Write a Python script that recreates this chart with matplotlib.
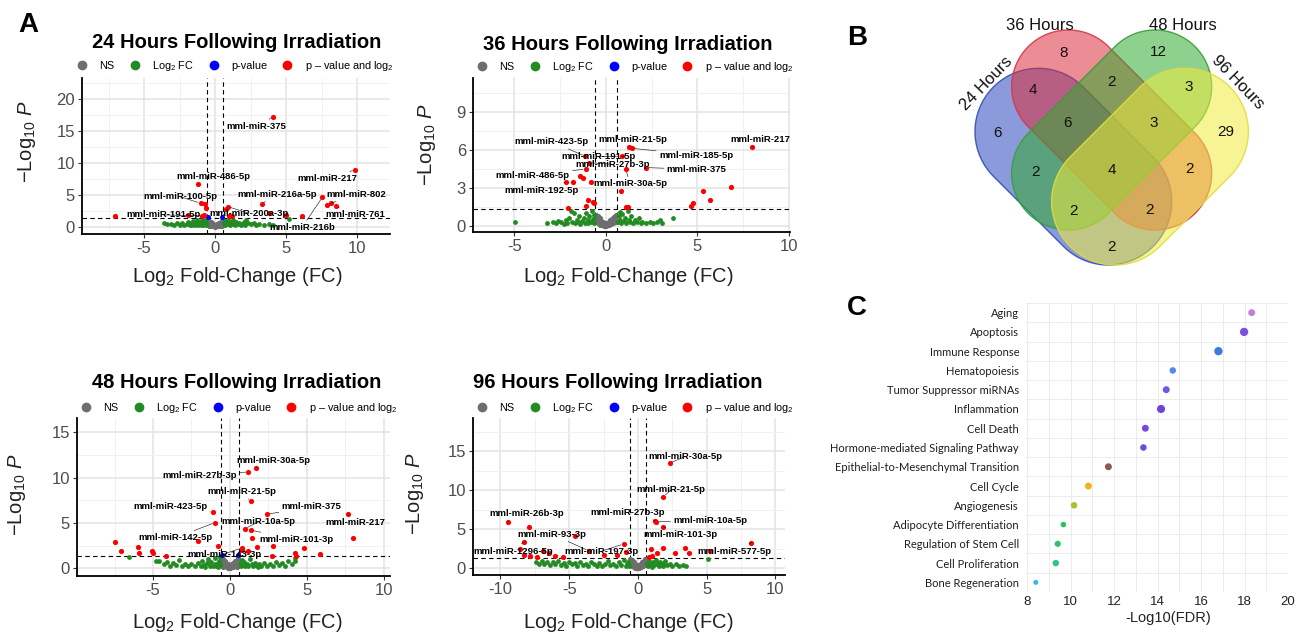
import matplotlib
matplotlib.use("Agg")
import matplotlib.pyplot as plt
import numpy as np
from matplotlib.lines import Line2D
from matplotlib.patches import Polygon
from matplotlib.ticker import MultipleLocator

plt.rcParams['font.family'] = ['Liberation Sans', 'DejaVu Sans']
plt.rcParams['mathtext.fontset'] = 'custom'
plt.rcParams['mathtext.rm'] = 'Liberation Sans'
plt.rcParams['mathtext.it'] = 'Liberation Sans:italic'
plt.rcParams['mathtext.bf'] = 'Liberation Sans:bold'
plt.rcParams['axes.unicode_minus'] = False

# ---------------- volcano data (log2 FC, -log10 P) ----------------
# 24 hours
h24_red_x = [-7.02, -1.20, -1.03, -0.73, -0.63, -0.90, -0.80, 0.89, 0.78, 0.96, 1.20,
             3.26, 3.78, 4.95, 6.12, 7.54, 7.89, 8.12, 8.47, 9.84, 4.06, -1.90]
h24_red_y = [1.68, 6.65, 3.67, 3.56, 2.89, 1.70, 1.75, 3.14, 2.80, 1.70, 1.70,
             3.56, 2.10, 1.80, 1.70, 4.61, 3.45, 3.66, 3.24, 8.90, 17.17, 1.80]
h24_blue_x = [-0.50, 0.48]
h24_blue_y = [1.55, 1.45]
h24_green_x = [-3.6, -3.4, -3.1, -2.9, -2.7, -2.5, -2.3, -2.2, -2.0, -1.9, -1.8, -1.7, -1.6, -1.55,
               -1.5, -1.4, -1.3, -1.25, -1.2, -1.1, -1.05, -1.0, -0.95, -0.9, -0.85, -0.8, -0.75,
               -0.7, -0.68, -0.65, 0.65, 0.7, 0.72, 0.8, 0.85, 0.9, 1.0, 1.05, 1.1, 1.2, 1.3, 1.4,
               1.5, 1.6, 1.7, 1.8, 1.9, 2.0, 2.1, 2.3, 2.5, 2.7, 2.9, 3.1, 3.4, 3.8, 4.1, 5.2, 2.2, 1.25]
h24_green_y = [0.55, 0.35, 0.45, 0.3, 0.5, 0.3, 0.55, 0.25, 0.4, 0.7, 0.3, 0.5, 0.2, 0.85,
               0.45, 0.3, 0.6, 1.0, 0.2, 0.45, 0.8, 0.3, 1.1, 0.55, 0.2, 0.75, 0.4,
               1.0, 0.25, 0.6, 0.5, 0.9, 0.2, 0.65, 0.35, 1.05, 0.5, 0.2, 0.8, 0.4, 0.6, 0.25,
               0.7, 0.4, 0.55, 0.2, 0.45, 0.7, 0.3, 0.5, 0.35, 0.6, 0.3, 0.45, 0.25, 0.4, 0.3, 1.2, 1.0, 1.1]
h24_gray_x = [-0.55, -0.5, -0.45, -0.4, -0.35, -0.3, -0.25, -0.2, -0.15, -0.1, -0.05, 0.0, 0.05, 0.1,
              0.15, 0.2, 0.25, 0.3, 0.35, 0.4, 0.45, 0.5, 0.55, -0.5, -0.4, -0.3, -0.2, -0.1, 0.0,
              0.1, 0.2, 0.3, 0.4, 0.5, -0.55, 0.55, -0.45, 0.45, -0.35, 0.35]
h24_gray_y = [1.05, 0.85, 0.95, 0.7, 0.6, 0.75, 0.5, 0.45, 0.35, 0.3, 0.2, 0.25, 0.2, 0.3,
              0.4, 0.45, 0.55, 0.65, 0.6, 0.75, 0.85, 0.9, 1.1, 0.4, 0.3, 0.2, 0.1, 0.05, 0.02,
              0.08, 0.12, 0.25, 0.3, 0.45, 0.6, 0.7, 0.15, 0.15, 0.05, 0.08]
h24_lab_names = ["mml-miR-375", "mml-miR-486-5p", "mml-miR-217", "mml-miR-100-5p", "mml-miR-216a-5p",
                 "mml-miR-802", "mml-miR-191-5p", "mml-miR-200a-3p", "mml-miR-761", "mml-miR-216b"]
h24_lab_idx = [20, 1, 19, 2, 11, 16, 5, 7, 18, 15]

# 36 hours
h36_red_x = [8.0, 1.28, 1.41, 0.87, -1.14, -0.9, -1.1, 1.1, 2.2, -1.41, -1.23, -2.17, -1.77, -0.83,
             0.83, 6.84, 5.29, 5.69, 4.78, 4.65, -0.96, -1.1, -0.72, -0.63, -2.05, 1.1, 1.2]
h36_red_y = [6.2, 6.24, 6.12, 5.5, 5.5, 4.98, 4.49, 4.46, 4.6, 3.96, 3.75, 3.46, 3.49, 3.49,
             2.76, 3.1, 2.76, 2.05, 1.83, 1.6, 2.05, 1.6, 1.91, 1.79, 1.44, 1.47, 1.47]
h36_blue_x = []
h36_blue_y = []
h36_green_x = [-4.95, -3.2, -2.9, -2.7, -2.6, -2.45, -2.3, -2.2, -2.1, -2.0, -1.9, -1.85, -1.75, -1.7,
               -1.6, -1.5, -1.45, -1.4, -1.3, -1.2, -1.15, -1.1, -1.0, -0.95, -0.9, -0.8, -0.75, -0.7,
               -0.65, -0.62, 0.65, 0.7, 0.75, 0.8, 0.85, 0.9, 1.0, 1.05, 1.1, 1.2, 1.25, 1.3, 1.4, 1.5,
               1.6, 1.7, 1.8, 1.9, 2.0, 2.2, 2.4, 2.6, 2.8, 2.95, 3.05, 3.66]
h36_green_y = [0.34, 0.26, 0.34, 0.2, 0.4, 0.3, 0.15, 0.45, 0.25, 0.6, 1.2, 0.35, 1.05, 0.2,
               0.5, 0.3, 0.8, 0.15, 0.4, 0.65, 0.25, 1.0, 0.45, 0.2, 0.75, 0.35, 1.15, 0.55,
               0.2, 0.9, 0.3, 0.8, 1.1, 0.5, 0.2, 0.95, 0.4, 0.65, 0.2, 1.2, 0.5, 0.3, 0.75, 0.2,
               0.45, 0.3, 0.6, 0.2, 0.35, 0.25, 0.3, 0.2, 0.35, 0.45, 0.25, 0.65]
h36_gray_x = [-0.55, -0.5, -0.45, -0.4, -0.35, -0.3, -0.25, -0.2, -0.15, -0.1, -0.05, 0.0, 0.05, 0.1,
              0.15, 0.2, 0.25, 0.3, 0.35, 0.4, 0.45, 0.5, 0.55, -0.5, -0.4, -0.3, -0.2, -0.1, 0.0,
              0.1, 0.2, 0.3, 0.4, 0.5, -0.55, 0.55]
h36_gray_y = [0.85, 0.7, 0.75, 0.55, 0.5, 0.6, 0.4, 0.35, 0.3, 0.25, 0.15, 0.2, 0.18, 0.25,
              0.3, 0.35, 0.45, 0.5, 0.55, 0.6, 0.7, 0.75, 0.9, 0.3, 0.2, 0.1, 0.06, 0.03, 0.02,
              0.05, 0.1, 0.15, 0.25, 0.35, 0.45, 0.5]
h36_lab_names = ["mml-miR-423-5p", "mml-miR-21-5p", "mml-miR-217", "mml-miR-185-5p", "mml-miR-191-5p",
                 "mml-miR-27b-3p", "mml-miR-375", "mml-miR-486-5p", "mml-miR-30a-5p", "mml-miR-192-5p"]
h36_lab_idx = [4, 1, 0, 2, 3, 5, 8, 6, 7, 11]

# 48 hours
h48_red_x = [1.69, 1.19, 1.34, -1.13, -0.97, 2.42, 7.64, 8.0, 0.97, 1.34, 1.45, -2.06, -7.47, -7.1,
             -5.99, -5.89, -5.08, -4.98, -4.18, -0.8, 0.76, 0.78, 1.19, 1.73, 2.81, 2.75, 4.22, 4.29,
             4.83, 5.84]
h48_red_y = [11.08, 10.64, 7.39, 6.23, 5.04, 5.97, 6.0, 3.36, 4.37, 4.21, 3.36, 2.98, 2.87, 1.94,
             2.31, 1.68, 1.86, 1.68, 1.38, 2.42, 2.24, 2.0, 1.86, 2.35, 2.42, 1.38, 1.68, 1.4,
             2.24, 1.57]
h48_blue_x = [-0.5, 0.52]
h48_blue_y = [1.45, 1.5]
h48_green_x = [-6.55, -4.8, -4.6, -4.3, -4.1, -3.9, -3.7, -3.5, -3.3, -3.1, -2.9, -2.7, -2.5, -2.3,
               -2.1, -1.9, -1.8, -1.7, -1.6, -1.5, -1.4, -1.3, -1.2, -1.1, -1.0, -0.95, -0.9, -0.8,
               -0.75, -0.7, -0.65, -0.62, 0.65, 0.7, 0.75, 0.8, 0.9, 1.0, 1.1, 1.2, 1.3, 1.4, 1.5,
               1.6, 1.7, 1.8, 1.9, 2.0, 2.2, 2.4, 2.6, 2.8, 3.0, 3.2, 3.4, 3.6, 3.8, 4.0, 4.25, 4.2]
h48_green_y = [1.2, 0.85, 0.8, 0.5, 0.65, 0.3, 0.55, 0.4, 0.95, 0.3, 0.5, 0.2, 0.45, 0.3,
               0.6, 0.25, 0.8, 0.4, 0.15, 0.55, 1.0, 0.3, 0.7, 0.2, 0.45, 1.1, 0.3, 0.6,
               0.15, 0.85, 0.4, 1.2, 0.5, 0.2, 0.9, 0.35, 0.65, 0.2, 0.5, 0.3, 1.0, 0.45, 0.2,
               0.6, 0.35, 0.15, 0.5, 0.3, 0.6, 0.25, 0.45, 0.2, 0.7, 0.35, 0.55, 0.3, 0.8, 0.5, 0.75, 1.15]
h48_gray_x = [-0.55, -0.5, -0.45, -0.4, -0.35, -0.3, -0.25, -0.2, -0.15, -0.1, -0.05, 0.0, 0.05, 0.1,
              0.15, 0.2, 0.25, 0.3, 0.35, 0.4, 0.45, 0.5, 0.55, -0.5, -0.4, -0.3, -0.2, -0.1, 0.0,
              0.1, 0.2, 0.3, 0.4, 0.5, -0.55, 0.55, -0.45, 0.45]
h48_gray_y = [1.15, 0.95, 1.0, 0.8, 0.7, 0.8, 0.6, 0.5, 0.45, 0.4, 0.3, 0.35, 0.3, 0.4,
              0.45, 0.55, 0.6, 0.75, 0.7, 0.85, 0.95, 1.0, 1.15, 0.45, 0.3, 0.2, 0.1, 0.05, 0.02,
              0.08, 0.15, 0.25, 0.35, 0.5, 0.65, 0.7, 0.15, 0.15]
h48_lab_names = ["mml-miR-30a-5p", "mml-miR-27b-3p", "mml-miR-21-5p", "mml-miR-423-5p", "mml-miR-375",
                 "mml-miR-217", "mml-miR-10a-5p", "mml-miR-142-5p", "mml-miR-101-3p", "mml-miR-143-3p"]
h48_lab_idx = [0, 1, 2, 3, 5, 6, 8, 4, 9, 20]

# 96 hours
h96_red_x = [2.3, 1.86, -9.48, -7.96, 1.26, 1.35, 1.86, -4.56, -8.32, -8.56, -8.27, -7.88, -7.35,
             -6.91, -6.5, -6.01, -5.45, -3.59, -2.5, -1.53, -1.04, -0.9, 0.95, 1.38, 1.86, 1.02,
             2.71, 3.44, 3.75, 5.26, 8.24, 0.8]
h96_red_y = [13.5, 9.2, 5.99, 5.35, 6.12, 5.99, 5.35, 4.15, 3.38, 2.52, 1.71, 1.58, 1.41,
             2.26, 1.93, 1.58, 1.41, 2.26, 1.71, 1.71, 3.12, 2.13, 2.44, 1.93, 2.57, 1.58,
             1.93, 2.57, 2.01, 2.26, 3.29, 1.4]
h96_blue_x = []
h96_blue_y = []
h96_green_x = [-7.4, -7.2, -7.0, -6.8, -6.6, -6.4, -6.2, -6.0, -5.8, -5.6, -5.4, -5.2, -5.0, -4.8,
               -4.6, -4.4, -4.2, -4.0, -3.8, -3.6, -3.4, -3.2, -3.0, -2.8, -2.6, -2.4, -2.2, -2.0,
               -1.8, -1.6, -1.4, -1.2, -1.0, -0.9, -0.8, -0.7, -0.65, 0.65, 0.7, 0.8, 0.9, 1.0, 1.1,
               1.2, 1.3, 1.4, 1.5, 1.6, 1.7, 1.8, 1.9, 2.0, 2.1, 2.3, 2.5, 2.8, 3.0, 3.3, 3.5, 5.1]
h96_green_y = [0.85, 0.6, 0.9, 0.5, 0.75, 0.4, 0.8, 0.55, 0.9, 0.45, 0.7, 0.35, 0.8, 0.5,
               0.65, 0.3, 0.75, 0.45, 0.6, 0.3, 0.85, 0.5, 0.35, 0.7, 0.25, 0.55, 0.9, 0.4,
               0.6, 0.25, 0.75, 0.45, 1.1, 0.3, 0.6, 0.85, 0.35, 0.6, 0.3, 1.0, 0.5, 0.2, 0.75,
               0.4, 1.1, 0.55, 0.25, 0.8, 0.45, 0.3, 0.65, 1.0, 0.4, 0.6, 0.3, 0.5, 0.35, 0.4, 0.25, 1.16]
h96_gray_x = [-0.55, -0.5, -0.45, -0.4, -0.35, -0.3, -0.25, -0.2, -0.15, -0.1, -0.05, 0.0, 0.05, 0.1,
              0.15, 0.2, 0.25, 0.3, 0.35, 0.4, 0.45, 0.5, 0.55, -0.5, -0.4, -0.3, -0.2, -0.1, 0.0,
              0.1, 0.2, 0.3, 0.4, 0.5, -0.55, 0.55]
h96_gray_y = [1.2, 1.0, 1.05, 0.85, 0.75, 0.8, 0.6, 0.55, 0.45, 0.4, 0.3, 0.35, 0.3, 0.4,
              0.45, 0.55, 0.6, 0.75, 0.75, 0.85, 1.0, 1.05, 1.2, 0.45, 0.3, 0.2, 0.1, 0.05, 0.02,
              0.08, 0.15, 0.25, 0.35, 0.5, 0.65, 0.7]
h96_lab_names = ["mml-miR-30a-5p", "mml-miR-21-5p", "mml-miR-26b-3p", "mml-miR-27b-3p", "mml-miR-10a-5p",
                 "mml-miR-93-3p", "mml-miR-101-3p", "mml-miR-1296-5p", "mml-miR-197-3p", "mml-miR-577-5p"]
h96_lab_idx = [0, 1, 2, 4, 5, 17, 6, 8, 20, 30]

# ---------------- venn data ----------------
venn_sets = ["24 Hours", "36 Hours", "48 Hours", "96 Hours"]
venn_counts = [6, 8, 12, 29, 4, 2, 3, 6, 3, 2, 4, 2, 2, 2, 2]

# ---------------- pathway data ----------------
pathways = ["Aging", "Apoptosis", "Immune Response", "Hematopoiesis", "Tumor Suppressor miRNAs",
            "Inflammation", "Cell Death", "Hormone-mediated Signaling Pathway",
            "Epithelial-to-Mesenchymal Transition", "Cell Cycle", "Angiogenesis",
            "Adipocyte Differentiation", "Regulation of Stem Cell", "Cell Proliferation",
            "Bone Regeneration"]
neglog_fdr = [18.33, 17.98, 16.8, 14.70, 14.40, 14.16, 13.44, 13.35, 11.74, 10.82, 10.16,
              9.67, 9.41, 9.32, 8.40]

# ---------------- layout helpers ----------------
W, H = 1309, 635


def px_rect(left, top, right, bottom):
    return [left / W, 1 - bottom / H, (right - left) / W, (bottom - top) / H]


def fx(x):
    return x / W


def fy(y):
    return 1 - y / H


fig = plt.figure(figsize=(13.09, 6.35), dpi=100)


def volcano(rect, red, blue, green, gray, names, idx, lab_pos, xlim, ylim, xticks, yticks, ystep,
            leg_anchor):
    ax = fig.add_axes(rect)
    ax.scatter(gray[0], gray[1], s=14, color='#6e6e6e', lw=0, zorder=2)
    ax.scatter(green[0], green[1], s=12, color='forestgreen', lw=0, zorder=2)
    ax.scatter(blue[0], blue[1], s=13, color='blue', lw=0, zorder=3)
    ax.scatter(red[0], red[1], s=14, color='red', lw=0, zorder=3)
    ax.axvline(-0.585, color='black', lw=0.8, ls=(0, (4, 3)), zorder=1.5)
    ax.axvline(0.585, color='black', lw=0.8, ls=(0, (4, 3)), zorder=1.5)
    ax.axhline(1.301, color='black', lw=0.8, ls=(0, (4, 3)), zorder=1.5)
    for name, i, (lx, ly) in zip(names, idx, lab_pos):
        ax.annotate(name, xy=(red[0][i], red[1][i]), xytext=(lx, ly), ha='center', va='center',
                    fontsize=6.8, fontweight='bold', annotation_clip=False, zorder=5,
                    arrowprops=dict(arrowstyle='-', color='#222222', lw=0.45, shrinkA=0, shrinkB=2))
    ax.set_xlim(*xlim)
    ax.set_ylim(*ylim)
    ax.set_xticks(xticks)
    ax.set_yticks(yticks)
    ax.xaxis.set_minor_locator(MultipleLocator(2.5))
    ax.yaxis.set_minor_locator(MultipleLocator(ystep / 2))
    ax.grid(which='major', color='#e3e3e3', lw=1.1)
    ax.grid(which='minor', color='#efefef', lw=0.6)
    ax.set_axisbelow(True)
    ax.tick_params(which='minor', length=0)
    ax.tick_params(which='major', length=3, width=0.8, color='#333333', labelsize=12,
                   labelcolor='#4d4d4d', pad=2)
    for s in ['top', 'right']:
        ax.spines[s].set_visible(False)
    for s in ['left', 'bottom']:
        ax.spines[s].set_linewidth(1.3)
        ax.spines[s].set_color('black')
    handles = [Line2D([], [], marker='o', ls='', color=c, markersize=6)
               for c in ['#6e6e6e', 'forestgreen', 'blue', 'red']]
    ax.legend(handles, ['NS', 'Log$_2$ FC', 'p-value', 'p \u2013 value and log$_2$'],
              loc='lower left', bbox_to_anchor=leg_anchor, ncol=4, frameon=False, fontsize=7.8,
              handlelength=1, handletextpad=1.1, columnspacing=1.35, borderpad=0, borderaxespad=0)
    return ax


panels = [
    dict(rect=px_rect(82, 78, 390, 234), red=(h24_red_x, h24_red_y), blue=(h24_blue_x, h24_blue_y),
         green=(h24_green_x, h24_green_y), gray=(h24_gray_x, h24_gray_y), names=h24_lab_names,
         idx=h24_lab_idx,
         lab_pos=[(2.89, 15.7), (-0.12, 7.85), (7.87, 7.5), (-2.46, 4.7), (4.34, 5.08), (9.93, 5.08),
                  (-3.64, 1.84), (2.35, 2.1), (9.86, 1.84), (6.1, -0.15)],
         xlim=(-9.37, 12.3), ylim=(-1.15, 23.3), xticks=[-5, 0, 5, 10], yticks=[0, 5, 10, 15, 20],
         ystep=5, leg_anchor=(-0.017, 1.035),
         title="24 Hours Following Irradiation", tpos=(237, 43), xl=(237, 277), yl=(27, 142)),
    dict(rect=px_rect(473, 78, 790, 232), red=(h36_red_x, h36_red_y), blue=(h36_blue_x, h36_blue_y),
         green=(h36_green_x, h36_green_y), gray=(h36_gray_x, h36_gray_y), names=h36_lab_names,
         idx=h36_lab_idx,
         lab_pos=[(-2.96, 6.64), (1.47, 6.83), (8.43, 6.83), (4.93, 5.59), (-0.41, 5.46), (0.38, 4.86),
                  (4.97, 4.46), (-3.99, 3.96), (1.32, 3.31), (-3.5, 2.83)],
         xlim=(-7.26, 10.07), ylim=(-0.47, 11.65), xticks=[-5, 0, 5, 10], yticks=[0, 3, 6, 9],
         ystep=3, leg_anchor=(0.012, 1.027),
         title="36 Hours Following Irradiation", tpos=(628, 45), xl=(628, 277), yl=(427, 145)),
    dict(rect=px_rect(77, 418, 390, 576), red=(h48_red_x, h48_red_y), blue=(h48_blue_x, h48_blue_y),
         green=(h48_green_x, h48_green_y), gray=(h48_gray_x, h48_gray_y), names=h48_lab_names,
         idx=h48_lab_idx,
         lab_pos=[(2.81, 11.94), (-1.95, 10.26), (0.76, 8.47), (-3.9, 6.83), (5.3, 6.79), (8.12, 5.04),
                  (1.84, 5.11), (-3.57, 3.36), (4.29, 3.17), (-0.39, 1.57)],
         xlim=(-9.94, 10.4), ylim=(-0.86, 16.6), xticks=[-5, 0, 5, 10], yticks=[0, 5, 10, 15],
         ystep=5, leg_anchor=(0.012, 1.02),
         title="48 Hours Following Irradiation", tpos=(237, 383), xl=(237, 622), yl=(17, 495)),
    dict(rect=px_rect(473, 418, 785, 575), red=(h96_red_x, h96_red_y), blue=(h96_blue_x, h96_blue_y),
         green=(h96_green_x, h96_green_y), gray=(h96_gray_x, h96_gray_y), names=h96_lab_names,
         idx=h96_lab_idx,
         lab_pos=[(3.44, 14.35), (2.4, 10.06), (-8.07, 6.98), (-0.75, 7.15), (5.26, 6.08), (-6.25, 4.37),
                  (3.08, 4.28), (-9.09, 2.22), (-2.62, 2.22), (7.03, 2.22)],
         xlim=(-12.0, 10.7), ylim=(-0.86, 19.3), xticks=[-10, -5, 0, 5, 10], yticks=[0, 5, 10, 15],
         ystep=5, leg_anchor=(0.012, 1.02),
         title="96 Hours Following Irradiation", tpos=(618, 383), xl=(628, 622), yl=(415, 494)),
]

for p in panels:
    volcano(p['rect'], p['red'], p['blue'], p['green'], p['gray'], p['names'], p['idx'], p['lab_pos'],
            p['xlim'], p['ylim'], p['xticks'], p['yticks'], p['ystep'], p['leg_anchor'])
    fig.text(fx(p['tpos'][0]), fy(p['tpos'][1]), p['title'], ha='center', va='center',
             fontsize=14.5, fontweight='bold')
    fig.text(fx(p['xl'][0]), fy(p['xl'][1]), "Log$_2$ Fold-Change (FC)", ha='center', va='center',
             fontsize=14.5, color='#222222')
    fig.text(fx(p['yl'][0]), fy(p['yl'][1]), "\u2212Log$_{10}$ $\\mathit{P}$", ha='center', va='center',
             fontsize=14.5, rotation=90, color='#222222')

# ---------------- B: venn ----------------
axv = fig.add_axes(px_rect(900, 0, 1309, 290))
axv.set_xlim(0, 1227)
axv.set_ylim(870, 0)
axv.axis('off')


def capsule(c1, c2, r, n=60):
    c1 = np.array(c1, float)
    c2 = np.array(c2, float)
    d = c2 - c1
    ang = np.arctan2(d[1], d[0])
    t1 = np.linspace(ang - np.pi / 2, ang + np.pi / 2, n)
    t2 = np.linspace(ang + np.pi / 2, ang + 3 * np.pi / 2, n)
    return np.vstack([c2 + r * np.c_[np.cos(t1), np.sin(t1)],
                      c1 + r * np.c_[np.cos(t2), np.sin(t2)]])


venn_shapes = [((415, 395), (625, 605), 190), ((505, 260), (765, 520), 170),
               ((765, 260), (505, 520), 170), ((855, 395), (645, 605), 190)]
venn_fill = ['#2a44bb', '#dc2c3c', '#2faa2f', '#f0ec3c']
venn_edge = ['#2f4fb8', '#d03848', '#36a036', '#e2dc40']
for (c1, c2, r), fc, ec in zip(venn_shapes, venn_fill, venn_edge):
    pts = capsule(c1, c2, r)
    axv.add_patch(Polygon(pts, closed=True, facecolor=fc, alpha=0.54, lw=0))
    axv.add_patch(Polygon(pts, closed=True, facecolor='none', edgecolor=ec, lw=1.0, alpha=0.9))

venn_count_pos = [(292, 400), (490, 160), (775, 155), (978, 395), (400, 270), (635, 245), (865, 260),
                  (503, 368), (762, 370), (405, 515), (635, 510), (868, 508), (520, 632), (750, 630),
                  (635, 740)]
for n, (x, y) in zip(venn_counts, venn_count_pos):
    axv.text(x, y, str(n), ha='center', va='center', fontsize=11, color='#111111')

venn_lab_pos = [(258, 250, 46), (420, 75, 0), (850, 75, 0), (1012, 248, -46)]
for name, (x, y, rot) in zip(venn_sets, venn_lab_pos):
    axv.text(x, y, name, ha='center', va='center', fontsize=12, rotation=rot, color='#111111')

# ---------------- C: pathways ----------------
pt_colors = ['#c77ddf', '#7b4fe0', '#3b7be0', '#5a86ea', '#6a5ae6', '#6e42dc', '#7449dc', '#6e4bd8',
             '#8a5a50', '#f2b21e', '#a6c330', '#2ec05a', '#30c46e', '#34c47e', '#33b9ea']
pt_sizes = [25, 36, 36, 22, 25, 34, 25, 22, 25, 25, 22, 16, 20, 22, 13]

axc = fig.add_axes(px_rect(1026, 303, 1288, 592))
ypos = np.arange(len(pathways))
axc.scatter(neglog_fdr, ypos, s=pt_sizes, c=pt_colors, lw=0, zorder=3)
axc.set_xlim(7.95, 20.0)
axc.set_ylim(14.48, -0.47)
axc.set_xticks([8, 10, 12, 14, 16, 18, 20])
axc.set_yticks(ypos)
axc.set_yticklabels(pathways, family=['Lato', 'DejaVu Sans'], fontsize=8, color='#1e1e1e')
axc.xaxis.set_minor_locator(MultipleLocator(1))
axc.set_yticks(np.arange(-0.5, 15, 1), minor=True)
axc.grid(which='both', axis='x', color='#ececec', lw=0.7)
axc.grid(which='minor', axis='y', color='#ececec', lw=0.7)
axc.set_axisbelow(True)
axc.tick_params(which='both', length=0)
axc.tick_params(axis='y', pad=5)
axc.tick_params(axis='x', labelsize=9.5, labelcolor='#222222', pad=3)
for s in axc.spines.values():
    s.set_visible(False)
fig.text(fx(1168), fy(618), "-Log10(FDR)", ha='center', va='center', fontsize=10.5, color='#222222')

# panel letters
fig.text(fx(28), fy(25), "A", ha='center', va='center', fontsize=20, fontweight='bold')
fig.text(fx(857), fy(38), "B", ha='center', va='center', fontsize=20, fontweight='bold')
fig.text(fx(857), fy(308), "C", ha='center', va='center', fontsize=20, fontweight='bold')

fig.savefig("out.png", dpi=100)
